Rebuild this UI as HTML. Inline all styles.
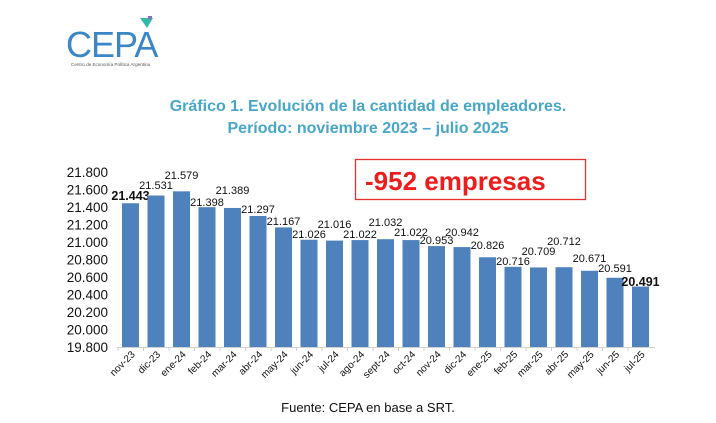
<!DOCTYPE html>
<html><head><meta charset="utf-8"><style>
html,body{margin:0;padding:0;background:#fff;width:716px;height:423px;overflow:hidden}
svg{display:block}
text{font-family:"Liberation Sans",Arial,sans-serif}
</style></head><body>
<svg width="716" height="423" viewBox="0 0 716 423" xmlns="http://www.w3.org/2000/svg">
<text x="66" y="57" font-size="36" fill="#3a86c6" font-family="Liberation Sans" letter-spacing="-1">CEPA</text>
<polygon points="140,18 153,18 147,28" fill="#35b8a8"/>
<rect x="148" y="16" width="4" height="3" fill="#8a6fc0"/>
<text x="71" y="66" font-size="4.6" fill="#555">Centro de Economía Política Argentina</text>
<text x="368" y="111" font-size="16" font-weight="bold" fill="#48a6c8" text-anchor="middle">Gráfico 1. Evolución de la cantidad de empleadores.</text>
<text x="368" y="133" font-size="16" font-weight="bold" fill="#48a6c8" text-anchor="middle">Período: noviembre 2023 – julio 2025</text>
<rect x="355.5" y="159.5" width="230" height="40" fill="none" stroke="#e53030" stroke-width="1.3"/>
<text x="365" y="190" font-size="26" font-weight="bold" fill="#ee1c1c">-952 empresas</text>
<g id="chart"></g>
<text x="368" y="412" font-size="13" fill="#111" text-anchor="middle">Fuente: CEPA en base a SRT.</text>
<script>
var g=document.getElementById('chart'),NS='http://www.w3.org/2000/svg';
function el(t,a,txt){var e=document.createElementNS(NS,t);for(var k in a)e.setAttribute(k,a[k]);if(txt)e.textContent=txt;g.appendChild(e);return e;}
function Y(v){return 347-(v-19800)/2000*175;}
for(var v=19800;v<=21800;v+=200){el('text',{x:108,y:Y(v)+5,'font-size':13.5,fill:'#111','text-anchor':'end'},(v/1000).toFixed(3));}
var cats=['nov-23','dic-23','ene-24','feb-24','mar-24','abr-24','may-24','jun-24','jul-24','ago-24','sept-24','oct-24','nov-24','dic-24','ene-25','feb-25','mar-25','abr-25','may-25','jun-25','jul-25'];
var vals=[21443,21531,21579,21398,21389,21297,21167,21026,21016,21022,21032,21022,20953,20942,20826,20716,20709,20712,20671,20591,20491];
var ly=[196,185,175,202,190,209,221,234,224,234,222,232,240,232,245,261,251,241,258,268,282];
el('line',{x1:117,y1:347.5,x2:655,y2:347.5,stroke:'#d0d0d0','stroke-width':1});
for(var i=0;i<21;i++){
 var x=122+i*25.5,cx=x+8.5;
 el('rect',{x:x,y:Y(vals[i]),width:17,height:347-Y(vals[i]),fill:'#4f81bd'});
 var b=(i==0||i==20);
 el('text',{x:cx,y:ly[i]+4,'font-size':b?12.5:11,'font-weight':b?'bold':'normal',fill:'#111','text-anchor':'middle'},(vals[i]/1000).toFixed(3));
 el('text',{x:0,y:0,'font-size':10,fill:'#111','text-anchor':'end',transform:'translate('+(cx+5)+',355) rotate(-45)'},cats[i]);
 el('line',{x1:x-4,y1:347,x2:x-4,y2:351,stroke:'#d0d0d0'});
}
</script>
</svg>
</body></html>
